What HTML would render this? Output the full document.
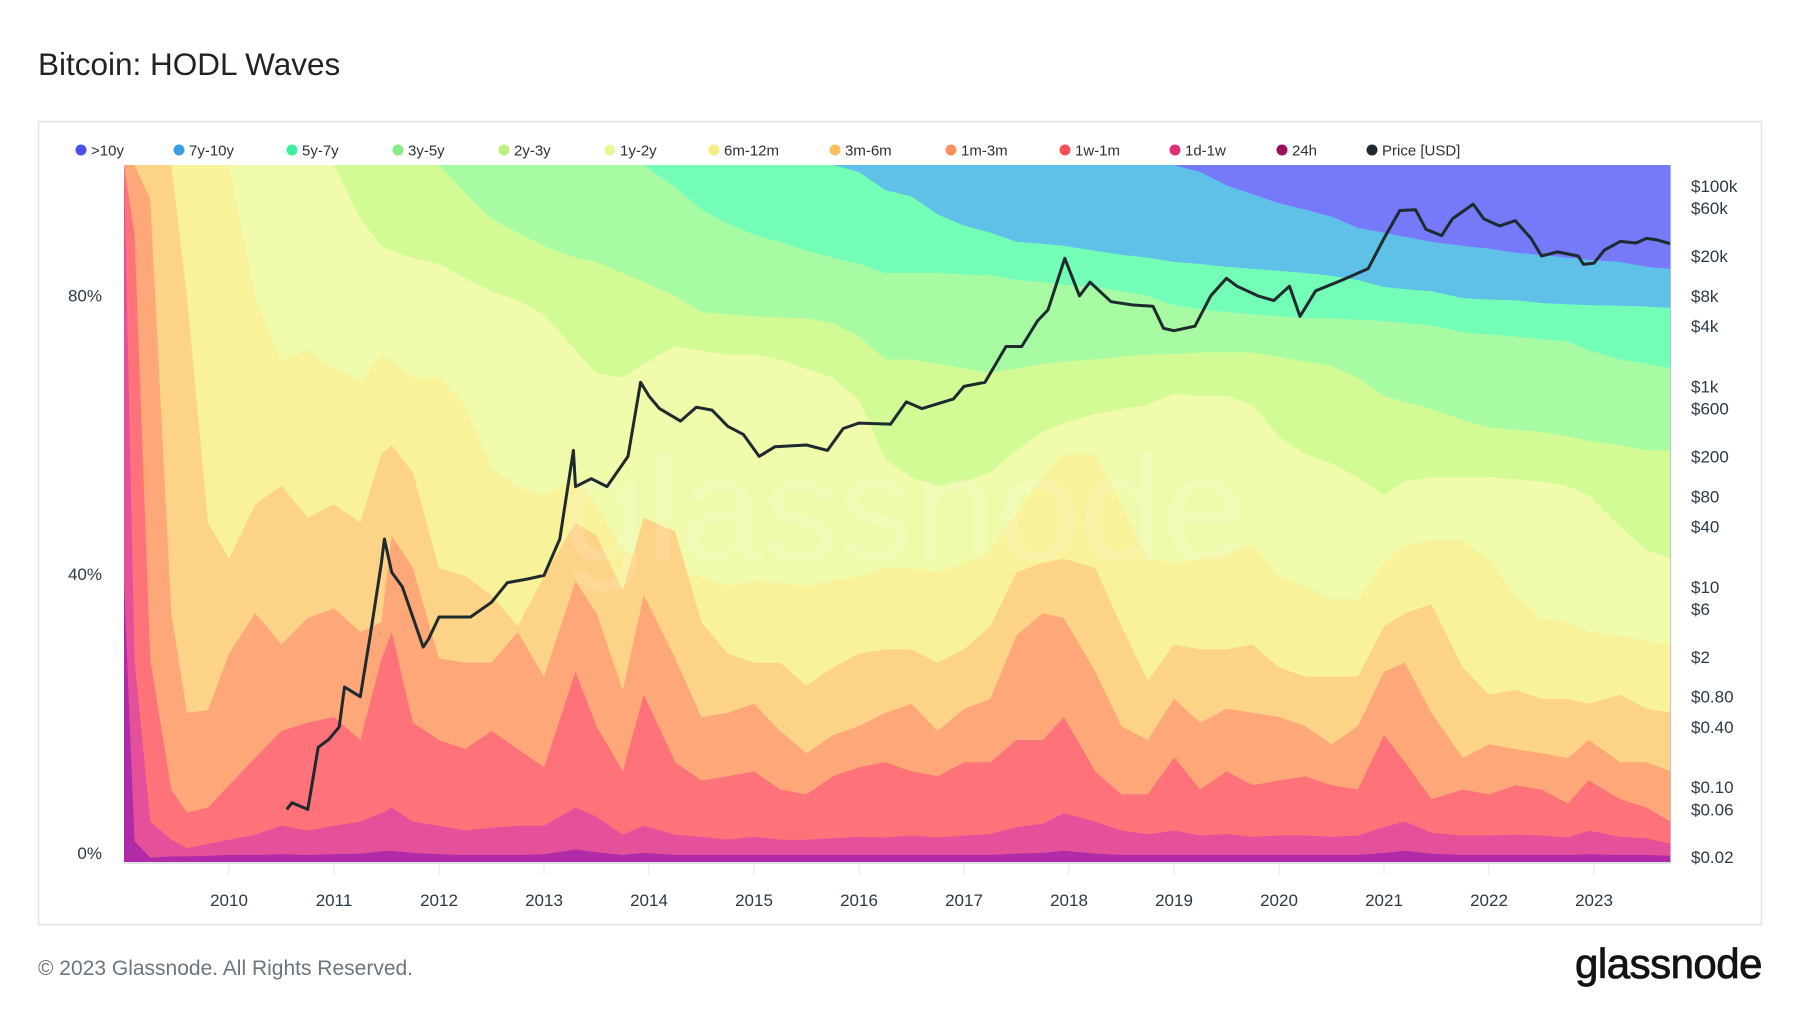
<!DOCTYPE html>
<html>
<head>
<meta charset="utf-8">
<style>
  html, body { margin: 0; padding: 0; background: #ffffff; }
  body { width: 1800px; height: 1013px; overflow: hidden; font-family: "Liberation Sans", sans-serif; }
  svg { display: block; }
</style>
</head>
<body>
<svg id="chart" width="1800" height="1013" viewBox="0 0 1800 1013" xmlns="http://www.w3.org/2000/svg">
  <text x="38" y="75" font-family="Liberation Sans, sans-serif" font-size="31.5" fill="#1d2327">Bitcoin: HODL Waves</text>
  <rect x="38.5" y="121.5" width="1723" height="803" fill="#ffffff" stroke="#dfe3e6" stroke-width="1.5"/>
  <g id="legend"></g>
  <g id="bands"></g>
  <text x="905" y="560" text-anchor="middle" font-family="Liberation Sans, sans-serif" font-size="150" fill="#ffffff" fill-opacity="0.13">glassnode</text>
  <g id="price"></g>
  <g id="axes"></g>
  <text x="38" y="975" font-family="Liberation Sans, sans-serif" font-size="21" fill="#6b757d">© 2023 Glassnode. All Rights Reserved.</text>
  <text x="1762" y="978" text-anchor="end" font-family="Liberation Sans, sans-serif" font-size="42" fill="#111417" stroke="#111417" stroke-width="0.8" letter-spacing="-0.5">glassnode</text>
</svg>
<script>
// ---- data ----
const dates = [2009.0,2009.1,2009.25,2009.45,2009.6,2009.8,2010.0,2010.25,2010.5,2010.75,
2011.0,2011.25,2011.45,2011.55,2011.75,2012.0,2012.25,2012.5,2012.75,2013.0,
2013.3,2013.5,2013.75,2013.95,2014.25,2014.5,2014.75,2015.0,2015.25,2015.5,
2015.75,2016.0,2016.25,2016.5,2016.75,2017.0,2017.25,2017.5,2017.75,2017.95,
2018.25,2018.5,2018.75,2019.0,2019.25,2019.5,2019.75,2020.0,2020.25,2020.5,
2020.75,2021.0,2021.2,2021.45,2021.75,2022.0,2022.25,2022.5,2022.75,2022.95,
2023.25,2023.5,2023.73];

// cumulative top of each band (percent of supply)
const top24h = [40,3,0.6,0.8,0.8,0.9,1,1,1.1,1,
1.1,1.2,1.5,1.6,1.3,1.1,1,1,1,1.1,
1.8,1.4,1,1.3,1,1,1,1,1,1,
1,1,1,1,1,1,1,1.2,1.3,1.6,
1.2,1,1,1,1,1,1,1,1,1,
1,1.3,1.6,1.2,1,1,1,1,1,1.1,
1,1,0.9];
const top1d1w = [100,29,5.8,3.2,2,2.6,3.2,3.9,5.2,4.5,
5.2,5.8,7,7.8,5.8,5.2,4.5,4.9,5.2,5.2,
7.8,6.5,3.9,5.2,3.9,3.6,3.2,3.6,3.2,3.2,
3.4,3.6,3.5,3.8,3.5,3.8,4,5,5.5,7,
5.8,4.5,4,4.5,3.8,4,3.6,3.8,3.8,3.6,
3.8,5,5.8,4.2,3.8,3.8,3.9,3.8,3.5,4.5,
3.6,3.4,2.6];
const top1w1m = [100,90,29,10.4,7.1,7.8,11,15,18.8,20,
20.8,17.5,29,33,20,17.5,16.2,18.8,16.2,13.6,
27.3,19.5,13,24,14.3,11.7,12.3,13,10.4,9.7,
12.3,13.6,14.3,13,12.3,14.3,14.3,17.5,17.5,20.8,
13,9.7,9.7,15,10.4,13,11,11.7,12.3,11,
10.4,18.2,14.3,9,10.4,9.7,11,10.4,8.4,11.7,
9,7.8,5.8];
const top1m3m = [100,100,95,35.7,21.4,21.8,29.9,35.7,31.2,35,
36.4,33,34.4,46.8,42.2,29.2,28.6,28.6,33,26.6,
40.3,35.7,24.7,38.3,29.2,20.8,21.4,22.7,18.8,15.6,
18.2,19.5,21.4,22.7,18.8,22,23.4,32.5,35.7,35,
27.3,19.5,17.5,23.4,20,22,21.4,20.8,19.5,16.9,
19.5,27.3,28.6,21.4,14.9,16.9,16.2,15.6,14.9,17.5,
14.3,14.3,13];
const top3m6m = [100,100,100,100,81,48.7,43.5,51.3,54,49.4,
51.3,48.7,58.5,59.8,55.9,42.2,41,38.3,33.8,41,
48.7,46.8,39,49.4,47.4,34.4,29.9,28.6,28.6,25.3,
27.9,29.9,30.5,30.5,28.6,30.5,33.8,41.6,42.9,43.5,
42.2,33.8,26,31.2,30.5,30.5,31.2,27.9,26.6,26.6,
26.6,33.8,35.7,37,27.9,24,24.7,23.4,23.4,22.7,
24,22,21.4];
const top6m12m = [100,100,100,100,100,100,100,81,72,73.4,
70.8,68.9,72.8,72,69.5,69.5,65.6,56.5,53.9,52.6,
55.2,51.3,44.8,42.9,41.6,40.9,39.6,40.3,40,39.6,
40.3,40.9,42.2,42.2,41.6,42.9,44.8,50,55.2,58.5,
58.5,51.3,43.5,42.9,43.5,44.2,45.5,40.9,39.6,37.7,
37.7,42.9,45.5,46.1,46.1,43.5,38.3,35,34.4,33.1,
32.5,31.8,31.2];
const top1y2y = [100,100,100,100,100,100,100,100,100,100,
100,92.3,88.4,87.7,86.7,85.8,83.8,81.9,80.6,78.6,
73.4,70.2,69.5,71.5,74,73.4,72.8,72.8,72.1,70.8,
69.5,66.3,57.8,55.2,53.9,54.6,55.9,59.1,61.7,63,
64.3,65,65.6,67.2,66.9,66.9,65.6,61,58.5,57.2,
55.2,52.6,54.6,55.2,55.2,55.2,54.9,54.6,53.9,52.6,
48.1,44.8,43.5];
const top2y3y = [100,100,100,100,100,100,100,100,100,100,
100,100,100,100,100,100,96,92.3,90.3,88.4,
86.7,86.1,84.5,83.2,81.2,78.9,78.6,78.3,78.1,78,
77.3,75.4,72.1,72.1,71.5,70.8,70.2,70.8,71.5,71.8,
72.1,72.5,72.8,72.9,73.1,73.1,73.1,72.5,71.8,71.2,
69.5,66.9,66,65,63.4,62.4,62,61.7,61.1,60.4,
59.8,59.1,59.1];
const top3y5y = [100,100,100,100,100,100,100,100,100,100,
100,100,100,100,100,100,100,100,100,100,
100,100,100,100,96.8,93.6,91.6,90,89,87.7,
86.7,85.8,84.5,84.5,84.5,84.3,84.2,83.5,83.2,82.8,
82.5,81.9,81.2,79.9,79.3,78.9,78.6,78.3,78,78,
77.8,77.6,77.3,77,76,75.7,75.4,75,74.7,73.4,
72.1,71.5,70.8];
const top5y7y = [100,100,100,100,100,100,100,100,100,100,
100,100,100,100,100,100,100,100,100,100,
100,100,100,100,100,100,100,100,100,100,
100,99,96.4,95.5,92.9,91.3,90.3,89,88.7,88.4,
87.7,87.1,86.7,86.1,85.8,85.4,85.1,84.8,84.5,84.1,
83.5,82.5,82.2,81.9,80.9,80.7,80.6,80.2,80,79.9,
79.8,79.7,79.5];
const top7y10y = [100,100,100,100,100,100,100,100,100,100,
100,100,100,100,100,100,100,100,100,100,
100,100,100,100,100,100,100,100,100,100,
100,100,100,100,100,100,100,100,100,100,
100,100,100,100,99,97.1,95.8,94.5,93.6,92.6,
91,90.3,89.7,89,88.4,88,87.4,87.1,86.7,86.4,
86.1,85.4,85.1];
const top10y = [100,100,100,100,100,100,100,100,100,100,
100,100,100,100,100,100,100,100,100,100,
100,100,100,100,100,100,100,100,100,100,
100,100,100,100,100,100,100,100,100,100,
100,100,100,100,100,100,100,100,100,100,
100,100,100,100,100,100,100,100,100,100,
100,100,100];

const bandNames = [">10y","7y-10y","5y-7y","3y-5y","2y-3y","1y-2y","6m-12m","3m-6m","1m-3m","1w-1m","1d-1w","24h"];
const bandTops = [top10y,top7y10y,top5y7y,top3y5y,top2y3y,top1y2y,top6m12m,top3m6m,top1m3m,top1w1m,top1d1w,top24h];

const priceDates = [2010.55,2010.6,2010.75,2010.85,2010.95,2011.05,2011.1,2011.25,2011.35,2011.45,2011.48,2011.55,2011.65,2011.75,2011.85,2011.9,2012.0,2012.15,2012.3,2012.5,2012.65,2012.85,2013.0,2013.15,2013.28,2013.3,2013.45,2013.6,2013.8,2013.92,2014.0,2014.1,2014.3,2014.45,2014.6,2014.75,2014.9,2015.05,2015.2,2015.5,2015.7,2015.85,2016.0,2016.3,2016.45,2016.6,2016.9,2017.0,2017.2,2017.4,2017.55,2017.7,2017.8,2017.96,2018.1,2018.2,2018.4,2018.6,2018.8,2018.9,2019.0,2019.2,2019.35,2019.5,2019.6,2019.8,2019.95,2020.1,2020.2,2020.35,2020.6,2020.85,2021.0,2021.15,2021.3,2021.4,2021.55,2021.65,2021.85,2021.95,2022.1,2022.25,2022.4,2022.5,2022.65,2022.85,2022.9,2023.0,2023.1,2023.25,2023.4,2023.5,2023.6,2023.73];
const priceValues = [0.06,0.07,0.06,0.25,0.3,0.4,1.0,0.8,3.5,17,30,14,10,5,2.5,3,5,5,5,7,11,12,13,30,230,100,120,100,200,1100,800,600,450,620,580,400,330,200,250,260,230,380,430,420,700,600,750,1000,1100,2500,2500,4500,5800,19000,8000,11000,7000,6500,6300,3800,3600,4000,8000,12000,10000,8000,7200,10000,5000,9000,11500,15000,30000,57000,58000,37000,32000,47000,66000,47000,40000,45000,30000,20000,22000,20000,16500,17000,23000,28000,27000,30000,29000,26500];

const pctTicks = [0,40,80];
const pctTickLabels = ["0%","40%","80%"];
const priceTicks = [100000,60000,20000,8000,4000,1000,600,200,80,40,10,6,2,0.8,0.4,0.1,0.06,0.02];
const priceTickLabels = ["$100k","$60k","$20k","$8k","$4k","$1k","$600","$200","$80","$40","$10","$6","$2","$0.80","$0.40","$0.10","$0.06","$0.02"];
const yearTicks = [2010,2011,2012,2013,2014,2015,2016,2017,2018,2019,2020,2021,2022,2023];

// ---- styling ----
const bandColors = ["#7679f8","#5fc0e8","#74fdb6","#a7fca3","#d2fa95","#f0fbab","#f8f29b","#fdd387","#fea87a","#fe7279","#e4519a","#b02ba8"];
const legendColors = ["#4b4ff2","#3b9fe6","#3def9f","#86ee88","#bdf07e","#e8f79a","#f8eb80","#fcbf62","#fb8f5e","#fb4f57","#df2f71","#9c0f5e","#1f2a2e"];
const legendX = [81,179,292,398,504,610,714,835,951,1065,1175,1282,1372];

const NS = "http://www.w3.org/2000/svg";
const X0 = 124, PX_YEAR = 105.0, Y0 = 862, PX_PCT = 6.97;
function xScale(t) { return X0 + (t - 2009) * PX_YEAR; }
function yPct(p) { return Y0 - p * PX_PCT; }
function yPrice(v) { return 186 + (5 - Math.log10(v)) * 100.2; }
function mk(tag, attrs) { const e = document.createElementNS(NS, tag); for (const k in attrs) e.setAttribute(k, attrs[k]); return e; }

// legend
const legend = document.getElementById("legend");
const legendLabels = bandNames.concat(["Price [USD]"]);
legendLabels.forEach((name, i) => {
  const g = mk("g", {});
  
  
  const c = mk("circle", { cx: legendX[i], cy: 150, r: 5.5, fill: legendColors[i] });
  
  
  const t = mk("text", { x: legendX[i] + 10, y: 155.5, "font-family": "Liberation Sans, sans-serif", "font-size": 15, fill: "#2b3237" });
  
  
  t.textContent = name;
  g.appendChild(c); g.appendChild(t);
  legend.appendChild(g);
});

// bands
const bands = document.getElementById("bands");
bandTops.forEach((tops, i) => {
  let d = "M" + xScale(dates[0]).toFixed(1) + "," + yPct(0).toFixed(1);
  for (let k = 0; k < dates.length; k++) {
    d += " L" + xScale(dates[k]).toFixed(1) + "," + yPct(tops[k]).toFixed(1);
  }
  d += " L" + xScale(dates[dates.length - 1]).toFixed(1) + "," + yPct(0).toFixed(1) + " Z";
  const p = mk("path", { d: d, fill: bandColors[i] });
  
  
  bands.appendChild(p);
});

// price line
const priceG = document.getElementById("price");
let pd = "";
priceDates.forEach((t, k) => {
  pd += (k ? " L" : "M") + xScale(t).toFixed(1) + "," + yPrice(priceValues[k]).toFixed(1);
});
const pl = mk("path", { d: pd, fill: "none", stroke: "#1f2a2e", "stroke-width": 3, "stroke-linejoin": "round" });


priceG.appendChild(pl);

// axes
const axes = document.getElementById("axes");
const xEnd = xScale(dates[dates.length - 1]);
const baseLine = mk("line", { x1: X0, y1: 863, x2: xEnd, y2: 863, stroke: "#d5dade", "stroke-width": 1.5 });


axes.appendChild(baseLine);
const rightLine = mk("line", { x1: xEnd, y1: 165, x2: xEnd, y2: 863, stroke: "#b9c2c8", "stroke-width": 1 });


axes.appendChild(rightLine);

yearTicks.forEach(y => {
  const x = xScale(y);
  const tk = mk("line", { x1: x, y1: 864, x2: x, y2: 875, stroke: "#e3e7ea", "stroke-width": 1 });
  
  
  axes.appendChild(tk);
  const t = mk("text", { x: x, y: 906, "text-anchor": "middle", "font-family": "Liberation Sans, sans-serif", "font-size": 17, fill: "#2b3a44" });
  
  
  t.textContent = y;
  axes.appendChild(t);
});
pctTicks.forEach((v, i) => {
  const t = mk("text", { x: 102, y: yPct(v) - 3, "text-anchor": "end", "font-family": "Liberation Sans, sans-serif", "font-size": 17, fill: "#2b3a44" });
  
  
  t.textContent = pctTickLabels[i];
  axes.appendChild(t);
});
priceTicks.forEach((v, i) => {
  const t = mk("text", { x: 1691, y: yPrice(v) + 6, "font-family": "Liberation Sans, sans-serif", "font-size": 17, fill: "#2b3a44" });
  
  
  t.textContent = priceTickLabels[i];
  axes.appendChild(t);
});
</script>
</body>
</html>
